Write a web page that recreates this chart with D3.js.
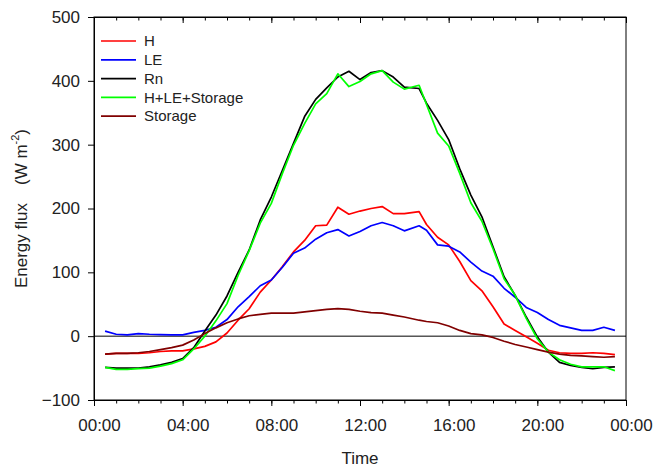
<!DOCTYPE html>
<html>
<head>
<meta charset="utf-8">
<script src="https://cdn.jsdelivr.net/npm/d3@7"></script>
<style>
  body { margin: 0; background: #fff; }
  svg text { font-family: "Liberation Sans", Arial, sans-serif; fill: #222; }
</style>
</head>
<body>
<svg id="chart" width="657" height="469"></svg>
<script>
// half-hourly times (one logged at 14:40 instead of 14:30)
const times = ['00:30','01:00','01:30','02:00','02:30','03:00','03:30','04:00',
  '04:30','05:00','05:30','06:00','06:30','07:00','07:30','08:00',
  '08:30','09:00','09:30','10:00','10:30','11:00','11:30','12:00',
  '12:30','13:00','13:30','14:00','14:40','15:00','15:30','16:00',
  '16:30','17:00','17:30','18:00','18:30','19:00','19:30','20:00',
  '20:30','21:00','21:30','22:00','22:30','23:00','23:30'];

const H = [-28,-27,-27,-27,-26,-24,-23,-23, -20,-16,-9,5,25,43,69,88,
  109,132,150,173,174,202,191,196, 200,203,192,192, 195,
  175,155,143,117,87,71,46,19,9,-1,-11,-22,-26,-27,-27,-26,-27,-29];
const LE = [8,3,2,4,3,2.5,2,2, 6,9,14,26,46,62,79,88,
  108,130,138,152,162,167,157,164, 173,178,173,165, 173,
  166,143,141,132,116,102,94,75,61,45,37,26,17,13,9,9,14,9];
const Rn = [-49,-50,-50,-50,-48,-45,-41,-35, -18,8,33,63,100,135,182,218,
  260,302,344,371,389,406,415,402, 413,416,406,390, 388,
  365,338,308,262,221,187,140,93,64,30,-1,-25,-41,-46,-49,-51,-49,-48];
const sumFlux = [-49,-52,-52,-51,-50,-47,-43,-37, -20,0,24,51,95,134,177,208,
  255,299,333,364,380,411,391,399, 411,416,398,387, 393,
  363,318,298,255,209,180,137,90,64,28,-4,-25,-37,-44,-48,-48,-48,-54];
const storage = [-28,-27,-27,-26,-24,-21,-18,-14, -6,4,13,21,27,32,34,36,
  36,36,38,40,42,43,42,39, 37,36,33,30, 25,
  23,21,16,9,4,2,-2,-8,-13,-17,-21,-25,-28,-30,-31,-32,-33,-32];

const seriesNames = ['H', 'LE', 'Rn', 'H+LE+Storage', 'Storage'];
const seriesValues = [H, LE, Rn, sumFlux, storage];
const seriesColors = ['#ff0000', '#0000ff', '#000000', '#00ff00', '#800000'];

const yTicks = [-100, 0, 100, 200, 300, 400, 500];
const xMajor = [0, 4, 8, 12, 16, 20, 24];
const xMinor = d3.range(0, 25);

const svg = d3.select('#chart');
const margin = { left: 94, right: 31, top: 17, bottom: 69 };
const width = 657 - margin.left - margin.right;
const height = 469 - margin.top - margin.bottom;

const hours = times.map((t) => {
  const [h, m] = t.split(':').map(Number);
  return h + m / 60;
});

const x = d3.scaleLinear().domain([0, 24]).range([0, width]);
const y = d3.scaleLinear().domain([-100, 500]).range([height, 0]);

const g = svg.append('g').attr('transform', `translate(${margin.left},${margin.top})`);

// zero line
g.append('line')
  .attr('x1', 0).attr('x2', width)
  .attr('y1', y(0)).attr('y2', y(0))
  .attr('stroke', '#000').attr('stroke-width', 1);

// series
const line = d3.line().x((d) => x(d[0])).y((d) => y(d[1]));
seriesValues.forEach((vals, i) => {
  g.append('path')
    .datum(vals.map((v, j) => [hours[j], v]))
    .attr('d', line)
    .attr('fill', 'none')
    .attr('stroke', seriesColors[i])
    .attr('stroke-width', 1.7)
    .attr('stroke-linejoin', 'round');
});

// axes
const fmt = (h) => d3.format('02d')(h % 24) + ':00';

const xAxis = g.append('g').attr('transform', `translate(0,${height})`)
  .call(d3.axisBottom(x).tickValues(xMajor).tickSize(6).tickPadding(13).tickFormat(fmt));
xAxis.selectAll('text').attr('font-size', 17).attr('dx', 5);

g.append('g').attr('transform', `translate(0,${height})`)
  .call(d3.axisBottom(x).tickValues(xMinor).tickSize(3.5).tickFormat(''));

g.append('g')
  .call(d3.axisTop(x).tickValues(xMajor).tickSize(-6).tickFormat(''));
g.append('g')
  .call(d3.axisTop(x).tickValues(xMinor).tickSize(-3.5).tickFormat(''));

const yAxis = g.append('g')
  .call(d3.axisLeft(y).tickValues(yTicks).tickSize(6).tickPadding(8));
yAxis.selectAll('text').attr('font-size', 17);

g.selectAll('.domain').attr('stroke', '#000');
g.selectAll('.tick line').attr('stroke', '#000');

// frame
g.append('rect')
  .attr('width', width).attr('height', height)
  .attr('fill', 'none').attr('stroke', '#000').attr('stroke-width', 1);

// axis titles
svg.append('text')
  .attr('x', margin.left + width / 2).attr('y', 464)
  .attr('text-anchor', 'middle').attr('font-size', 17)
  .text('Time');

const yTitle = svg.append('text')
  .attr('transform', `translate(27,${margin.top + height / 2}) rotate(-90)`)
  .attr('text-anchor', 'middle').attr('font-size', 17);
yTitle.append('tspan').text('Energy flux');
yTitle.append('tspan').attr('dx', 18).text('(W m');
yTitle.append('tspan').attr('dy', -8).attr('font-size', 11).text('-2');
yTitle.append('tspan').attr('dy', 8).text(')');

// legend
const legend = g.append('g').attr('transform', 'translate(7,24)');
seriesNames.forEach((name, i) => {
  const row = legend.append('g').attr('transform', `translate(0,${i * 18.8})`);
  row.append('line')
    .attr('x1', 0).attr('x2', 35)
    .attr('stroke', seriesColors[i]).attr('stroke-width', 1.7);
  row.append('text')
    .attr('x', 43).attr('dy', '0.35em')
    .attr('font-size', 15)
    .text(name);
});
</script>
</body>
</html>
